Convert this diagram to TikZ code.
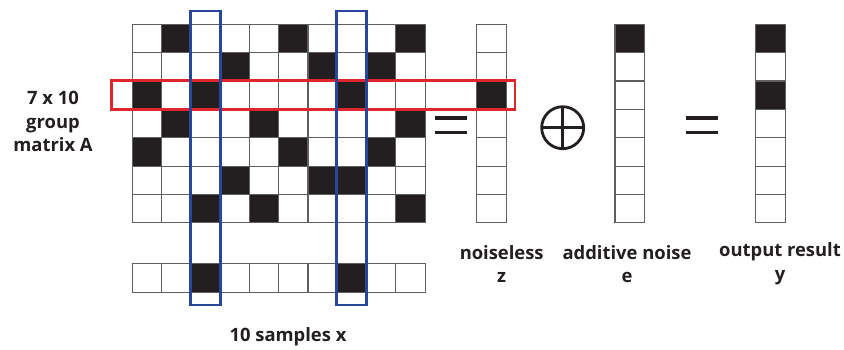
\documentclass[tikz,border=0pt]{standalone}
\usepackage{fontspec}
\setmainfont{Open Sans}
\definecolor{cellblack}{RGB}{35,31,32}
\definecolor{gridgray}{RGB}{95,95,95}
\definecolor{selblue}{RGB}{40,70,155}
\definecolor{selred}{RGB}{222,38,44}

\begin{document}
\begin{tikzpicture}[
    x=0.75pt, y=-0.75pt,
    cell/.style={fill=white, draw=gridgray, line width=0.8pt},
    oncell/.style={fill=cellblack, draw=gridgray, line width=0.8pt},
    lbl/.style={text=cellblack, font=\fontsize{13.8}{17.8}\selectfont\bfseries, align=center},
    eqbar/.style={cellblack, line width=2.3pt}
]

% Canvas
\useasboundingbox (0,0) rectangle (844,350);

% 1. GROUP MATRIX A (7 x 10)
\begin{scope}[shift={(132.5,24.3)}, x=21.94pt, y=-21.26pt]
  \foreach \r in {1,...,7}
    \foreach \c in {1,...,10}
      \draw[cell] (\c-1,\r-1) rectangle (\c,\r);
  \foreach \r/\blk in {1/{2,6,10}, 2/{4,7,9}, 3/{1,3,8}, 4/{2,5,10}, 5/{1,6,9}, 6/{4,7,8}, 7/{3,5,10}}
    \foreach \c in \blk
      \draw[oncell] (\c-1,\r-1) rectangle (\c,\r);
\end{scope}

% 2. SAMPLE VECTOR x
\begin{scope}[shift={(132.5,263.3)}, x=21.94pt, y=-21.75pt]
  \foreach \c in {1,...,10}
    \draw[cell] (\c-1,0) rectangle (\c,1);
  \foreach \c in {3,8}
    \draw[oncell] (\c-1,0) rectangle (\c,1);
\end{scope}

% 3. COLUMN VECTORS z, e, y
\foreach \xo/\blk in {476.7/{3}, 615.0/{1}, 755.7/{1,3}} {
  \begin{scope}[shift={(\xo,24.3)}, x=22.2pt, y=-21.26pt]
    \foreach \r in {1,...,7}
      \draw[cell] (0,\r-1) rectangle (1,\r);
    \foreach \r in \blk
      \draw[oncell] (0,\r-1) rectangle (1,\r);
  \end{scope}
}

% 4. SELECTION FRAMES
% Row of test 3
\draw[selred, line width=1.9pt] (111.7,80.3) rectangle (515,109.3);
% Columns of items 3 and 8
\draw[selblue, line width=1.9pt] (190.7,11) rectangle (220.5,305);
\draw[selblue, line width=1.9pt] (336.7,11) rectangle (366.5,305);

% 5. OPERATORS
\draw[eqbar] (435,118) -- (467,118);
\draw[eqbar] (435,132.5) -- (467,132.5);
\draw[cellblack, line width=2.1pt] (562.7,127.7) circle (21);
\draw[cellblack, line width=2.1pt] (541.7,127.7) -- (583.7,127.7);
\draw[cellblack, line width=2.1pt] (562.7,106.7) -- (562.7,148.7);
\draw[eqbar] (686,118) -- (718,118);
\draw[eqbar] (686,132.5) -- (718,132.5);

% 6. LABELS
\node[lbl] (matA) at (53,121.5) {7 x 10\\group\\matrix A};
\node[lbl] (smpx) at (288,337) {10 samples x};
\node[lbl] (vecz) at (501.7,264) {noiseless\\z};
\node[lbl] (vece) at (627,264) {additive noise\\e};
\node[lbl] (vecy) at (780,264) {output result\\y};

\end{tikzpicture}
\end{document}
